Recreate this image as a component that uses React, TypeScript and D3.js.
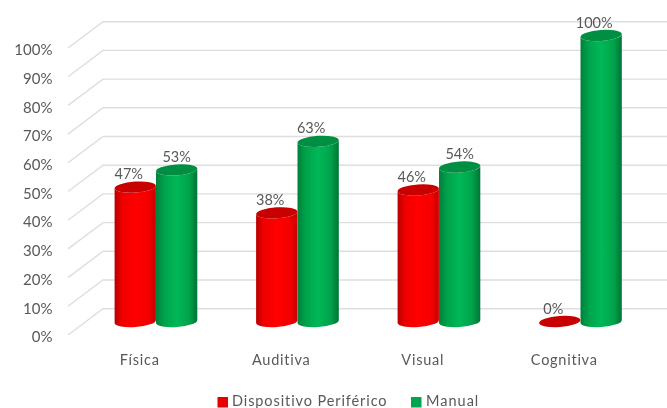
import React from "react";
import * as d3 from "d3";

const categories = ["Física", "Auditiva", "Visual", "Cognitiva"];
const seriesNames = ["Dispositivo Periférico", "Manual"];
const perifericoValues = [47, 38, 46, 0];
const manualValues = [53, 63, 54, 100];
const yTicks = [0, 10, 20, 30, 40, 50, 60, 70, 80, 90, 100];

const W = 667, H = 408;
const FONT = "Lato, 'Open Sans', sans-serif";
const TEXT = "#595959";
const GRID = "#dedede";

const xBand = d3.scaleBand<string>().domain(categories).range([85, 651]).padding(0);
const yBack = d3.scaleLinear().domain([0, 100]).range([308.7, 21.7]);
const yBar = d3.scaleLinear().domain([0, 100]).range([321.5, 35.5]);
const tilt = 4;
const rx = 20.7, ry = 5.5;

function Cylinder({ cx, v, side, top }: { cx: number; v: number; side: string; top: string }) {
  const dx = rx * Math.cos((tilt * Math.PI) / 180);
  const dy = rx * Math.sin((tilt * Math.PI) / 180);
  const yT = yBar(v), yB = yBar(0);
  const arc = (sweep: number, x: number, y: number) => `A${rx},${ry} ${-tilt} 0 ${sweep} ${x},${y}`;
  const body = `M${cx - dx},${yT + dy}L${cx - dx},${yB + dy}${arc(0, cx + dx, yB - dy)}L${cx + dx},${yT - dy}${arc(1, cx - dx, yT + dy)}Z`;
  const lid = `M${cx - dx},${yT + dy}${arc(1, cx + dx, yT - dy)}${arc(1, cx - dx, yT + dy)}Z`;
  return (
    <g>
      {v > 0 && <path d={body} fill={`url(#${side})`} />}
      <path d={lid} fill={top} />
    </g>
  );
}

export default function App() {
  const step = xBand.step();
  const centers = categories.map((c) => xBand(c)! + step / 2);
  const redX = centers.map((c) => c - rx + 0.2);
  const greenX = centers.map((c) => c + rx + 0.2);
  return (
    <svg width={W} height={H} style={{ position: "absolute", left: 0, top: 0, background: "#fff" }} fontFamily={FONT}>
      <defs>
        <linearGradient id="redSide" x1="0" x2="1" y1="0" y2="0">
          <stop offset="0" stopColor="#b80000" />
          <stop offset="0.18" stopColor="#ee0000" />
          <stop offset="0.5" stopColor="#ff0000" />
          <stop offset="0.82" stopColor="#f40000" />
          <stop offset="1" stopColor="#c80000" />
        </linearGradient>
        <linearGradient id="greenSide" x1="0" x2="1" y1="0" y2="0">
          <stop offset="0" stopColor="#00803b" />
          <stop offset="0.2" stopColor="#00a34b" />
          <stop offset="0.5" stopColor="#00b856" />
          <stop offset="0.8" stopColor="#00a34b" />
          <stop offset="1" stopColor="#007436" />
        </linearGradient>
        <filter id="soft" x="-5%" y="-5%" width="110%" height="110%">
          <feGaussianBlur stdDeviation="0.4" />
        </filter>
      </defs>
      <g filter="url(#soft)">
        {yTicks.map((t) => (
          <g key={t}>
            <path
              d={`M68,${yBack(t) + 26.3}L103,${yBack(t)}L${W},${yBack(t)}`}
              fill="none"
              stroke={GRID}
              strokeWidth={1.4}
            />
            <text x={52.5} y={yBack(t) + 33.5} textAnchor="end" fontSize={15} fill={TEXT}>
              {t}%
            </text>
          </g>
        ))}
        {categories.map((c, i) => (
          <g key={c}>
            <Cylinder cx={redX[i]} v={perifericoValues[i]} side="redSide" top="#c80000" />
            <Cylinder cx={greenX[i]} v={manualValues[i]} side="greenSide" top="#008f42" />
            <text x={redX[i] - 6.5} y={yBar(perifericoValues[i]) - 8} textAnchor="middle" fontSize={14.5} fill={TEXT}>
              {perifericoValues[i]}%
            </text>
            <text x={greenX[i] - (i === 0 || i === 2 ? 0 : 7)} y={yBar(manualValues[i]) - 8} textAnchor="middle" fontSize={14.5} fill={TEXT}>
              {manualValues[i]}%
            </text>
            <text x={centers[i] - 16} y={364.5} textAnchor="middle" fontSize={14.5} letterSpacing={0.75} fill={TEXT}>
              {c}
            </text>
          </g>
        ))}
        <rect x={217.5} y={397} width={10.5} height={10.5} fill="#e60000" />
        <text x={232} y={405.5} fontSize={14.5} letterSpacing={0.9} fill={TEXT}>
          {seriesNames[0]}
        </text>
        <rect x={411} y={397} width={10.5} height={10.5} fill="#00a64f" />
        <text x={426} y={405.5} fontSize={14.5} letterSpacing={1} fill={TEXT}>
          {seriesNames[1]}
        </text>
      </g>
    </svg>
  );
}
